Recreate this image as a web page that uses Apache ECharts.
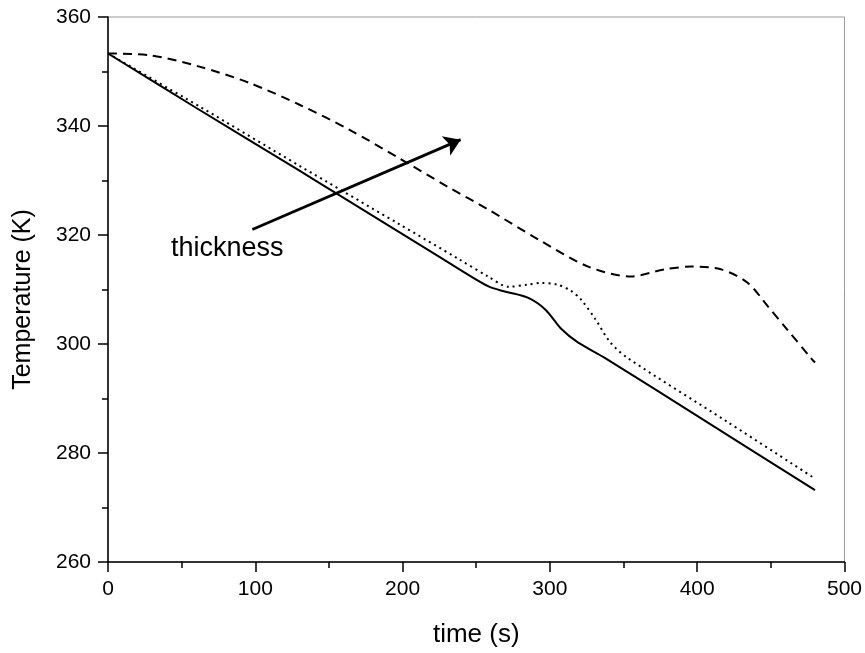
<!DOCTYPE html>
<html>
<head>
<meta charset="utf-8">
<script src="https://cdn.jsdelivr.net/npm/echarts@6/dist/echarts.min.js"></script>
<style>
  html, body { margin: 0; padding: 0; background: #fff; }
  #chart { width: 865px; height: 653px; }
</style>
</head>
<body>
<div id="chart"></div>
<script>
// time (s) and temperature (K), one pair of arrays per curve
const timeSolid = [0, 60, 130, 160, 225, 258, 270, 285, 297, 308, 319, 337, 400, 480]
const tempSolid = [353.3, 343.3, 331.8, 326.8, 316.0, 310.6, 309.6, 308.5, 306.3, 302.7, 300.3, 297.5, 286.8, 273.2]

const timeDotted = [0, 62, 130, 197, 238, 258, 272, 285, 294, 305, 314, 321, 331, 341, 353, 420, 480]
const tempDotted = [353.3, 343.6, 332.7, 322.1, 315.6, 312.4, 310.5, 310.9, 311.2, 310.9, 309.8, 308.2, 304.5, 300.3, 297.4, 285.8, 275.3]

const timeDashed = [0, 28, 62, 96, 130, 164, 197, 231, 258, 292, 326, 355, 378, 396, 416, 434, 448, 461, 477, 480]
const tempDashed = [353.3, 353.0, 350.9, 347.9, 343.9, 339.3, 334.2, 328.8, 324.7, 319.2, 314.2, 312.4, 313.7, 314.2, 313.7, 311.3, 306.9, 302.7, 297.5, 296.6]

// arrow "thickness": tail and head in data units
const arrowFrom = [98, 321.0]
const arrowTo = [239.4, 337.5]

const xTicks = { min: 0, max: 500, interval: 100 }
const yTicks = { min: 260, max: 360, interval: 20 }

const FONT = "'Liberation Sans', Arial, sans-serif"

const pairs = (xs, ys) => xs.map((x, i) => [x, ys[i]])

const chart = echarts.init(document.getElementById('chart'))

const axisCommon = {
  type: 'value',
  axisLine: { show: true, lineStyle: { color: '#000', width: 1.5 } },
  axisTick: { show: true, inside: false, length: 10, lineStyle: { color: '#000', width: 1.5 } },
  minorTick: { show: true, splitNumber: 2, length: 6, lineStyle: { color: '#000', width: 1.5 } },
  splitLine: { show: false },
  axisLabel: { color: '#000', fontSize: 21, fontFamily: FONT, margin: 17 },
  nameLocation: 'middle',
  nameTextStyle: { color: '#000', fontSize: 26, fontFamily: FONT }
}

const option = {
  animation: false,
  grid: {
    left: 108, right: 18, top: 17, bottom: 90,
    show: true, borderColor: '#999', borderWidth: 1, backgroundColor: 'transparent'
  },
  xAxis: Object.assign({}, axisCommon, xTicks, {
    name: 'time (s)',
    nameGap: 60
  }),
  yAxis: Object.assign({}, axisCommon, yTicks, {
    name: 'Temperature (K)',
    nameGap: 72,
    nameTextStyle: { color: '#000', fontSize: 25, fontFamily: FONT, padding: [0, 20, 0, 0] }
  }),
  graphic: [{
    type: 'text',
    style: {
      x: 171, y: 249,
      text: 'thickness',
      font: '27px ' + FONT,
      fill: '#000',
      textAlign: 'left',
      textVerticalAlign: 'middle'
    }
  }],
  series: [
    {
      type: 'line',
      data: pairs(timeSolid, tempSolid),
      showSymbol: false,
      smooth: 0.3,
      lineStyle: { color: '#000', width: 2, type: 'solid' },
      markLine: {
        silent: true,
        symbol: ['none', 'arrow'],
        symbolSize: 16,
        label: { show: false },
        lineStyle: { color: '#000', width: 2.8, type: 'solid' },
        data: [[{ coord: arrowFrom }, { coord: arrowTo }]]
      }
    },
    {
      type: 'line',
      data: pairs(timeDotted, tempDotted),
      showSymbol: false,
      smooth: 0.3,
      lineStyle: { color: '#000', width: 2, type: [2, 4] }
    },
    {
      type: 'line',
      data: pairs(timeDashed, tempDashed),
      showSymbol: false,
      smooth: 0.3,
      lineStyle: { color: '#000', width: 2, type: [9, 6] }
    }
  ]
}

chart.setOption(option)
</script>
</body>
</html>
